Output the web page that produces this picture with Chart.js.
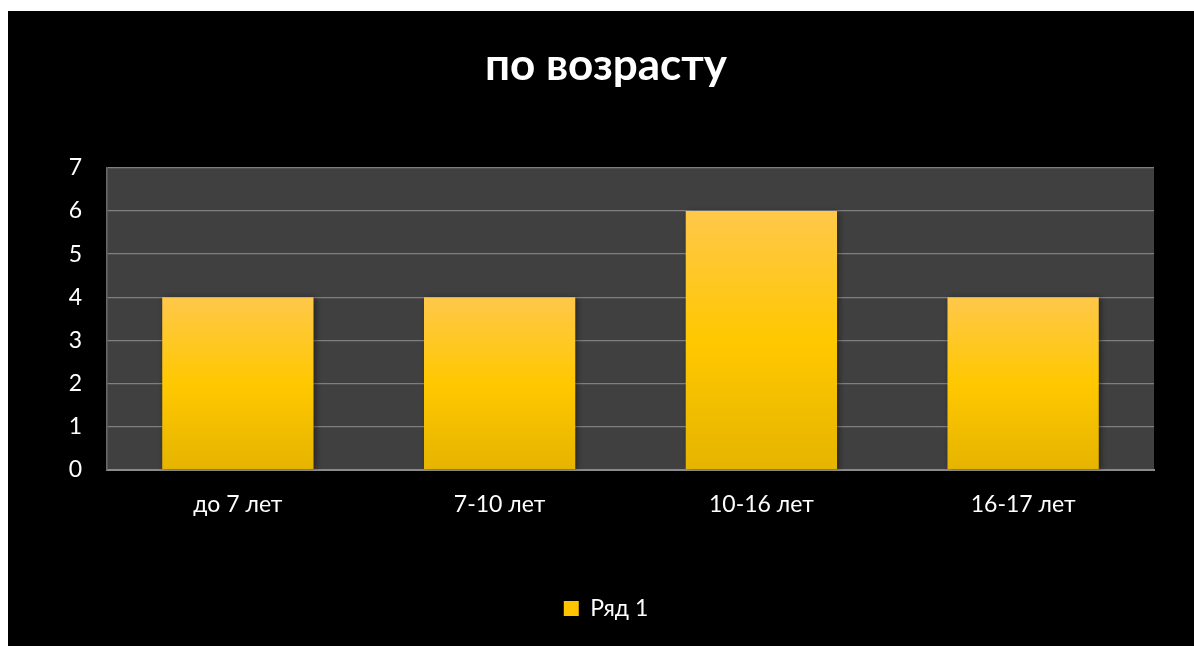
<!DOCTYPE html>
<html>
<head>
<meta charset="utf-8">
<script src="https://cdn.jsdelivr.net/npm/chart.js@4"></script>
<style>
    html, body { margin: 0; padding: 0; background: #ffffff; }
    #wrap { position: absolute; left: 8px; top: 11px; width: 1186px; height: 635px; background: #000000; }
</style>
</head>
<body>
<div id="wrap"><canvas id="ageChart"></canvas></div>
<script>
// Chart data
var chartTitle = "по возрасту";
var categories = ["до 7 лет", "7-10 лет", "10-16 лет", "16-17 лет"];
var seriesName = "Ряд 1";
var seriesValues = [4, 4, 6, 4];
var yTicks = [0, 1, 2, 3, 4, 5, 6, 7];

var fontFamily = "Lato, 'Open Sans', sans-serif";

// Gradient for each bar, running from its own top down to zero
function barGradient(context) {
    var chart = context.chart;
    var yScale = chart.scales && chart.scales.y;
    if (!chart.chartArea || !yScale || context.type !== "data") {
        return "#FFC800";
    }
    var top = yScale.getPixelForValue(context.raw);
    var bottom = yScale.getPixelForValue(0);
    var g = chart.ctx.createLinearGradient(0, top, 0, bottom);
    g.addColorStop(0, "#FFC84A");
    g.addColorStop(0.5, "#FFC800");
    g.addColorStop(1, "#E6B400");
    return g;
}

// Dark plot area behind the bars
var plotBackground = {
    id: "plotBackground",
    beforeDraw: function (chart) {
        var a = chart.chartArea;
        var ctx = chart.ctx;
        ctx.save();
        ctx.fillStyle = "#404040";
        ctx.fillRect(a.left, a.top, a.right - a.left, a.bottom - a.top);
        ctx.restore();
    }
};

// Soft shadow on the bars
var barShadow = {
    id: "barShadow",
    beforeDatasetsDraw: function (chart) {
        var ctx = chart.ctx;
        ctx.save();
        ctx.shadowColor = "rgba(0,0,0,0.45)";
        ctx.shadowBlur = 6;
        ctx.shadowOffsetX = 2;
        ctx.shadowOffsetY = 1;
    },
    afterDatasetsDraw: function (chart) {
        chart.ctx.restore();
    }
};

var ctx = document.getElementById("ageChart").getContext("2d");
window.ageChart = new Chart(ctx, {
    type: "bar",
    data: {
        labels: categories,
        datasets: [{
            label: seriesName,
            data: seriesValues,
            backgroundColor: barGradient,
            borderWidth: 0,
            categoryPercentage: 0.578,
            barPercentage: 1
        }]
    },
    options: {
        responsive: true,
        maintainAspectRatio: false,
        animation: false,
        layout: {
            padding: { left: 10, right: 0, top: 0, bottom: 16 }
        },
        plugins: {
            title: {
                display: true,
                text: chartTitle,
                color: "#ffffff",
                font: { family: fontFamily, size: 44, weight: "bold" },
                padding: { top: 28, bottom: 76 }
            },
            legend: {
                position: "bottom",
                labels: {
                    color: "#ffffff",
                    font: { family: fontFamily, size: 23 },
                    boxWidth: 15,
                    boxHeight: 15,
                    padding: 10,
                    generateLabels: function (chart) {
                        return [{
                            text: seriesName,
                            fillStyle: "#FFC400",
                            strokeStyle: "#FFC400",
                            lineWidth: 0,
                            fontColor: "#ffffff",
                            datasetIndex: 0
                        }];
                    }
                }
            },
            tooltip: { enabled: false }
        },
        scales: {
            x: {
                afterFit: function (scale) {
                    scale.height = 117;
                },
                grid: { display: false, drawTicks: false },
                border: { display: true, color: "#8a8a8a", width: 2 },
                ticks: {
                    color: "#ffffff",
                    font: { family: fontFamily, size: 23 },
                    padding: 21
                }
            },
            y: {
                min: 0,
                max: 7,
                afterBuildTicks: function (scale) {
                    scale.ticks = yTicks.map(function (v) { return { value: v }; });
                },
                afterFit: function (scale) {
                    scale.width = 89;
                },
                grid: {
                    color: "#7f7f7f",
                    lineWidth: 1.3,
                    drawTicks: false
                },
                border: { display: true, color: "#6a6a6a", width: 1.5 },
                ticks: {
                    color: "#ffffff",
                    font: { family: fontFamily, size: 23 },
                    padding: 25
                }
            },
            // empty strip on the right of the plot
            yRight: {
                position: "right",
                display: true,
                afterFit: function (scale) {
                    scale.width = 40;
                },
                grid: { display: false, drawTicks: false },
                border: { display: false },
                ticks: { display: false }
            }
        }
    },
    plugins: [plotBackground, barShadow]
});
</script>
</body>
</html>
